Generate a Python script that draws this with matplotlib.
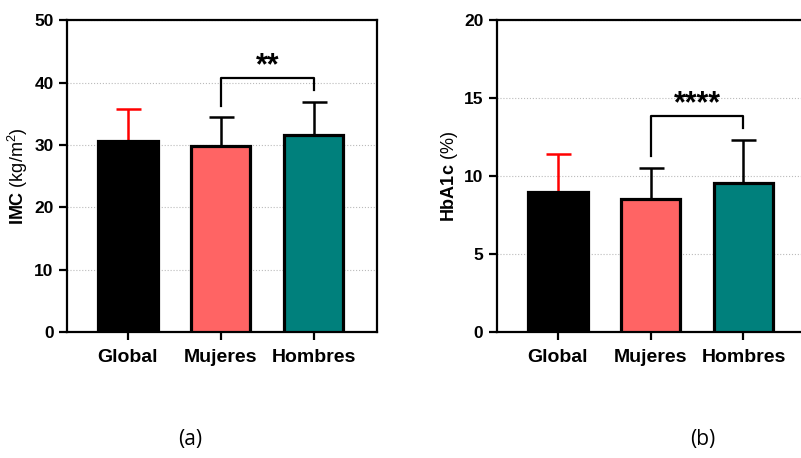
import matplotlib.pyplot as plt

plt.rcParams['font.family'] = ['Liberation Sans', 'DejaVu Sans']
plt.rcParams['mathtext.fontset'] = 'custom'
plt.rcParams['mathtext.rm'] = 'Liberation Sans'
plt.rcParams['mathtext.bf'] = 'Liberation Sans:bold'

# ---- data ----
groups = ["Global", "Mujeres", "Hombres"]
imc_mean = [30.7, 29.9, 31.6]
imc_sd = [5.0, 4.6, 5.3]
hba1c_mean = [9.0, 8.5, 9.55]
hba1c_sd = [2.4, 2.05, 2.75]

bar_colors = ["#000000", "#FF6464", "#00807C"]
err_colors = ["#FF0000", "#000000", "#000000"]


def draw_panel(ax, means, sds, ymax, step, ylabel, bracket, stars):
    x = range(len(groups))
    ax.bar(x, means, width=0.64, color=bar_colors, edgecolor="black",
           linewidth=2.3, zorder=3)
    for i in x:
        ax.errorbar(i, means[i], yerr=[[0], [sds[i]]], fmt="none",
                    ecolor=err_colors[i], elinewidth=1.8, capsize=9,
                    capthick=1.8, zorder=2)
    ax.set_xlim(-0.66, 2.68)
    ax.set_ylim(0, ymax)
    ax.set_yticks(range(0, ymax + 1, step))
    ax.set_xticks(list(x))
    ax.set_xticklabels(groups, fontsize=14, fontweight="bold")
    for lab in ax.get_yticklabels():
        lab.set_fontweight("bold")
        lab.set_fontsize(12.5)
    ax.tick_params(axis="both", direction="out", length=6, width=1.6)
    ax.tick_params(axis="x", pad=6)
    for s in ax.spines.values():
        s.set_linewidth(1.6)
    ax.yaxis.grid(True, linestyle=":", color="#BBBBBB", linewidth=0.8, zorder=0)
    ax.set_ylabel(ylabel, fontsize=13, labelpad=3)

    # significance bracket
    y, yl, yr = bracket
    ax.plot([1, 1, 2, 2], [yl, y, y, yr], color="black", lw=1.6, zorder=4)
    ax.text(1.5, y - ymax * 0.012, stars, ha="center", va="bottom",
            fontsize=22, fontweight="bold")


fig = plt.figure(figsize=(8.01, 4.58), dpi=100)
ax1 = fig.add_axes([0.0833, 0.275, 0.387, 0.681])
ax2 = fig.add_axes([0.620, 0.275, 0.387, 0.681])

draw_panel(ax1, imc_mean, imc_sd, 50, 10, r"$\mathbf{IMC}$ (kg/m$^2$)",
           (40.8, 36.2, 38.8), "**")
draw_panel(ax2, hba1c_mean, hba1c_sd, 20, 5, r"$\mathbf{HbA1c}$ (%)",
           (13.87, 11.3, 13.08), "****")

fig.text(190 / 801, 1 - 440 / 458, "(a)", ha="center", va="center",
         fontsize=15, family=["Open Sans", "DejaVu Sans"])
fig.text(703 / 801, 1 - 440 / 458, "(b)", ha="center", va="center",
         fontsize=15, family=["Open Sans", "DejaVu Sans"])

fig.savefig("out.png", dpi=100)
